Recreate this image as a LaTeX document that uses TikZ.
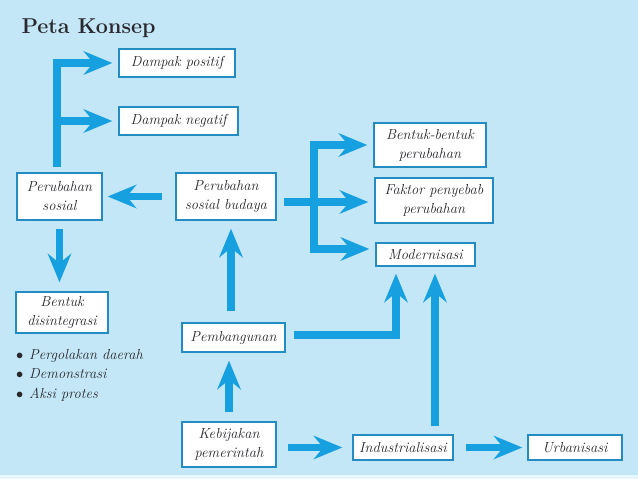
\documentclass[tikz,border=0pt]{standalone}
\usetikzlibrary{arrows.meta}
\definecolor{latar}{RGB}{196,231,247}
\definecolor{biru}{RGB}{22,160,224}
\definecolor{garis}{RGB}{35,140,195}
\definecolor{teks}{RGB}{40,40,45}
\tikzset{
  kotak/.style={draw=garis, fill=white, line width=1.5pt, align=center, inner sep=1pt,
    font=\fontsize{14.5}{19}\selectfont\itshape, text=teks},
  panah/.style={biru, line width=7.5pt, line join=miter,
    -{Stealth[length=29pt,width=24pt,inset=10pt,line width=0pt]}}
}
\begin{document}
\begin{tikzpicture}[x=1pt, y=-1pt]
    \fill[latar] (0,0) rectangle (638,479);
    \fill[white!60!latar] (0,475) rectangle (638,479);
    \node[anchor=west, font=\fontsize{21.5}{24}\selectfont\bfseries, text=teks] (judul) at (18,28) {Peta Konsep};

    \node[kotak, minimum width=116pt, minimum height=28pt] (dpos) at (177,63) {Dampak positif};
    \node[kotak, minimum width=119pt, minimum height=28pt] (dneg) at (178.5,121) {Dampak negatif};
    \node[kotak, minimum width=85pt, minimum height=47pt] (psos) at (59.5,196.5) {Perubahan\\sosial};
    \node[kotak, minimum width=100pt, minimum height=47pt] (psb) at (226,196.5) {Perubahan\\sosial budaya};
    \node[kotak, minimum width=112pt, minimum height=44pt] (bbp) at (430,145) {Bentuk-bentuk\\perubahan};
    \node[kotak, minimum width=118pt, minimum height=45pt] (fpp) at (434,200.5) {Faktor penyebab\\perubahan};
    \node[kotak, minimum width=99pt, minimum height=23pt] (mod) at (425.5,254.5) {Modernisasi};
    \node[kotak, minimum width=92pt, minimum height=41pt] (bdis) at (62,312.5) {Bentuk\\disintegrasi};
    \node[kotak, minimum width=103pt, minimum height=29pt] (pemb) at (233.5,337.5) {Pembangunan};
    \node[kotak, minimum width=94pt, minimum height=45pt] (kebi) at (229,444.5) {Kebijakan\\pemerintah};
    \node[kotak, minimum width=100pt, minimum height=25pt] (indu) at (403,447.5) {Industrialisasi};
    \node[kotak, minimum width=94pt, minimum height=25pt] (urb) at (575,447.5) {Urbanisasi};
    \node[anchor=north west, align=left, inner sep=0pt, text=teks,
      font=\fontsize{14.5}{19.5}\selectfont\itshape] (daftar) at (16,349)
      {\makebox[13pt][l]{$\bullet$}Pergolakan daerah\\
       \makebox[13pt][l]{$\bullet$}Demonstrasi\\
       \makebox[13pt][l]{$\bullet$}Aksi protes};

    \draw[panah, shorten <=5pt, shorten >=6pt] ([xshift=-2.5pt]psos.north) |- (dpos.west);
    \coordinate (cabang) at ([xshift=-2.5pt]psos.north |- dneg.west);
    \draw[panah, shorten >=6pt] (cabang) -- (dneg.west);
    \draw[panah, shorten <=13pt, shorten >=5pt] (psb.west) -- (psos.east);
    \draw[panah, shorten <=8pt, shorten >=9pt] (psos.south) -- (psos.south |- bdis.north);

    \coordinate (simpul) at ([xshift=37pt, yshift=-5.5pt]psb.east);
    \draw[panah, shorten <=7pt, shorten >=6pt] ([yshift=-5.5pt]psb.east) -- (simpul -| fpp.west);
    \draw[panah, shorten >=6pt] (simpul) |- (bbp.west);
    \draw[panah, shorten >=6pt] (simpul) |- ([yshift=5.5pt]mod.west);

    \draw[panah, shorten <=11pt, shorten >=8pt] ([xshift=-2.5pt]pemb.north) -- ([xshift=-2.5pt]pemb.north |- psb.south);
    \draw[panah, shorten <=9pt, shorten >=8pt] (kebi.north) -- (kebi.north |- pemb.south);
    \draw[panah, shorten <=8pt, shorten >=7pt] ([yshift=2.5pt]pemb.east) -| ([xshift=-29.5pt]mod.south);
    \draw[panah, shorten <=8pt, shorten >=7pt] ([xshift=32pt]indu.north) -- ([xshift=32pt]indu.north |- mod.south);
    \draw[panah, shorten <=11pt, shorten >=10pt] (kebi.east |- indu.west) -- (indu.west);
    \draw[panah, shorten <=12pt, shorten >=5pt] (indu.east) -- (urb.west);
\end{tikzpicture}
\end{document}
